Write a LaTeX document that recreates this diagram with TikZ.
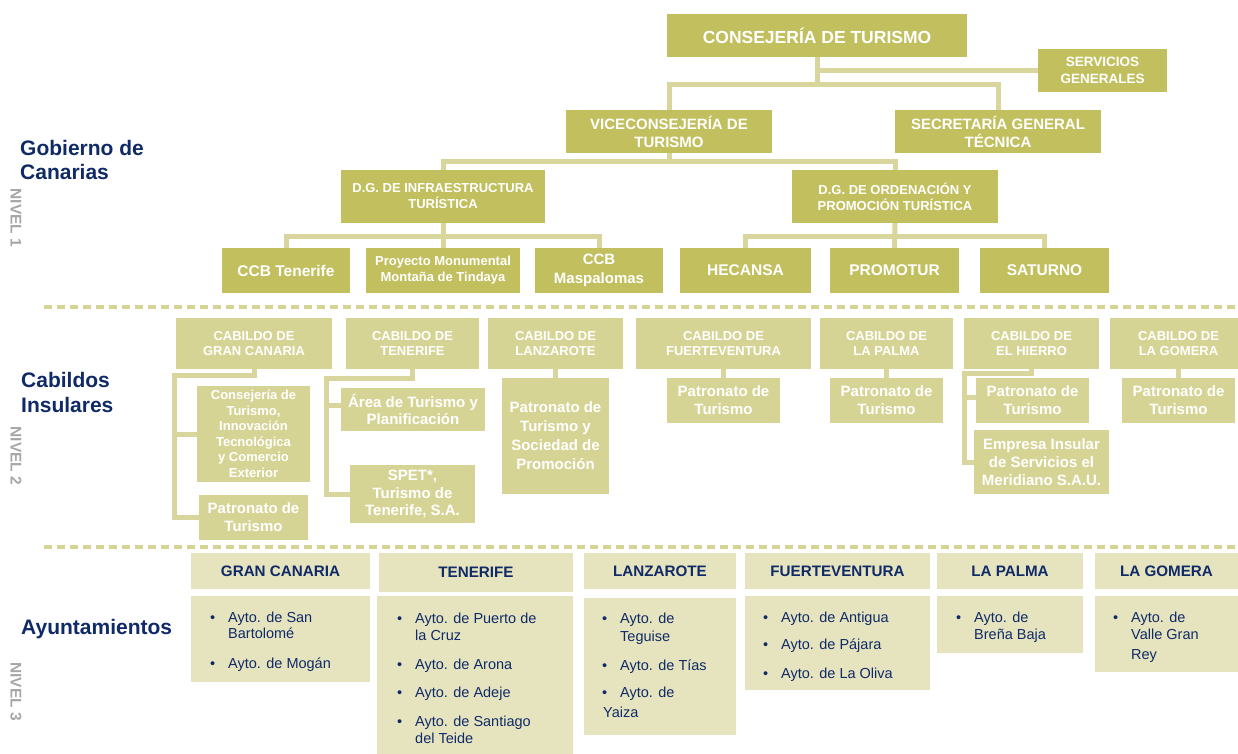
\documentclass[tikz,border=0pt]{standalone}
\usepackage{fontspec}
\setmainfont{Liberation Sans}
\usetikzlibrary{calc}
\pgfdeclarelayer{bg}
\pgfsetlayers{bg,main}
\definecolor{kA}{HTML}{C2BF5F}
\definecolor{kB}{HTML}{D6D495}
\definecolor{kC}{HTML}{E6E4BE}
\definecolor{kL}{HTML}{D8D69C}
\definecolor{navy}{HTML}{102A68}
\definecolor{nivgray}{HTML}{A6A6A6}
\newcommand\fA[2]{\bfseries\fontsize{#1}{#2}\selectfont}
\newcommand\fR[2]{\fontsize{#1}{#2}\selectfont}
\newcommand\bx[7]{\node[#2, minimum width={(#5-#3)*1pt}, minimum height={(#6-#4)*1pt}] (#1) at ({(#3+#5)/2},{(#4+#6)/2}) {#7};}
\newcommand\bitem[4]{\node[bul] (#1) at ({#2-18},#3) {\makebox[18pt][l]{•}#4};}
\newcommand\bline[4]{\node[bul] (#1) at (#2,#3) {#4};}
\tikzset{
  lvA/.style={fill=kA, text=white, inner sep=0pt, align=center},
  lvB/.style={fill=kB, text=white, inner sep=0pt, align=center},
  lvC/.style={fill=kC, text=navy, inner sep=0pt, align=center},
  conn/.style={draw=kL, line width=5pt},
  dsh/.style={draw=kB, line width=3.5pt, dash pattern=on 8pt off 5pt},
  bul/.style={text=navy, inner sep=0pt, anchor=base west, font=\fR{14.5}{17}},
  lab/.style={text=navy, inner sep=0pt, anchor=base west, font=\fA{21}{24}},
  niv/.style={text=nivgray, inner sep=0pt, font=\fA{15.5}{18}, rotate=-90}
}
\begin{document}
\begin{tikzpicture}[x=1pt,y=-1pt]
\useasboundingbox (0,0) rectangle (1238,753);
% left labels
\node[lab] (gob1) at (20,155) {Gobierno de};
\node[lab] (gob2) at (20,179) {Canarias};
\node[niv] (niv1) at (16,218) {NIVEL 1};
\node[lab] (cab1) at (21,387) {Cabildos};
\node[lab] (cab2) at (21,412) {Insulares};
\node[niv] (niv2) at (16,456) {NIVEL 2};
\node[lab] (ayu) at (21,634) {Ayuntamientos};
\node[niv] (niv3) at (16,691.5) {NIVEL 3};
% separators
\coordinate (d1a) at (44,307); \coordinate (d1b) at (1238,307);
\coordinate (d2a) at (44,547); \coordinate (d2b) at (1238,547);
\draw[dsh] (d1a) -- (d1b);
\draw[dsh] (d2a) -- (d2b);
% level 1
\bx{cons}{lvA,font={\fA{17.5}{21}}}{667}{14}{967}{57}{CONSEJERÍA DE TURISMO}
\bx{serv}{lvA,font={\fA{13.5}{16.5}}}{1038}{49}{1167}{92}{SERVICIOS\\GENERALES}
\bx{vice}{lvA,font={\fA{15}{18}}}{566}{110}{772}{153}{VICECONSEJERÍA DE\\TURISMO}
\bx{sec}{lvA,font={\fA{15}{18}}}{895}{110}{1101}{153}{SECRETARÍA GENERAL\\TÉCNICA}
\bx{dginf}{lvA,font={\fA{13}{16}}}{341}{170}{545}{223}{D.G. DE INFRAESTRUCTURA\\TURÍSTICA}
\bx{dgord}{lvA,font={\fA{13}{16}}}{792}{170}{998}{223}{D.G. DE ORDENACIÓN Y\\PROMOCIÓN TURÍSTICA}
\bx{ccbt}{lvA,font={\fA{15.5}{19}}}{222}{248}{350}{293}{CCB Tenerife}
\bx{tind}{lvA,font={\fA{13}{16}}}{366}{248}{520}{293}{Proyecto Monumental\\Montaña de Tindaya}
\bx{ccbm}{lvA,font={\fA{15}{19}}}{535}{248}{663}{293}{CCB\\Maspalomas}
\bx{hec}{lvA,font={\fA{15.5}{19}}}{680}{248}{811}{293}{HECANSA}
\bx{promo}{lvA,font={\fA{15.5}{19}}}{830}{248}{959}{293}{PROMOTUR}
\bx{sat}{lvA,font={\fA{15.5}{19}}}{980}{248}{1109}{293}{SATURNO}
% level 2
\bx{cgc}{lvB,font={\fA{13}{15}}}{176}{318}{332}{369}{CABILDO DE\\GRAN CANARIA}
\bx{ctf}{lvB,font={\fA{13}{15}}}{346}{318}{479}{369}{CABILDO DE\\TENERIFE}
\bx{clz}{lvB,font={\fA{13}{15}}}{488}{318}{623}{369}{CABILDO DE\\LANZAROTE}
\bx{cfv}{lvB,font={\fA{13}{15}}}{636}{318}{811}{369}{CABILDO DE\\FUERTEVENTURA}
\bx{clp}{lvB,font={\fA{13}{15}}}{820}{318}{953}{369}{CABILDO DE\\LA PALMA}
\bx{ceh}{lvB,font={\fA{13}{15}}}{964}{318}{1099}{369}{CABILDO DE\\EL HIERRO}
\bx{clg}{lvB,font={\fA{13}{15}}}{1110}{318}{1247}{369}{CABILDO DE\\LA GOMERA}
\bx{gc1}{lvB,font={\fA{13}{15.5}}}{197}{386}{310}{482}{Consejería de\\Turismo,\\Innovación\\Tecnológica\\y Comercio\\Exterior}
\bx{gc2}{lvB,font={\fA{15}{18}}}{199}{495}{308}{540}{Patronato de\\Turismo}
\bx{tf1}{lvB,font={\fA{15}{17}}}{341}{388}{485}{431}{Área de Turismo y\\Planificación}
\bx{tf2}{lvB,font={\fA{15}{17.5}}}{350}{465}{475}{523}{SPET*,\\Turismo de\\Tenerife, S.A.}
\bx{lz1}{lvB,font={\fA{15}{19}}}{502}{378}{609}{494}{Patronato de\\Turismo y\\Sociedad de\\Promoción}
\bx{fv1}{lvB,font={\fA{15}{18}}}{667}{378}{780}{423}{Patronato de\\Turismo}
\bx{lp1}{lvB,font={\fA{15}{18}}}{830}{378}{943}{423}{Patronato de\\Turismo}
\bx{eh1}{lvB,font={\fA{15}{18}}}{976}{378}{1089}{423}{Patronato de\\Turismo}
\bx{eh2}{lvB,font={\fA{15}{18}}}{974}{430}{1109}{494}{Empresa Insular\\de Servicios el\\Meridiano S.A.U.}
\bx{lg1}{lvB,font={\fA{15}{18}}}{1122}{378}{1235}{423}{Patronato de\\Turismo}
% level 3 headers
\bx{hgc}{lvC,font={\fA{15.2}{18}}}{191}{553}{370}{589}{GRAN CANARIA}
\bx{htf}{lvC,font={\fA{15.2}{18}}}{379}{553}{573}{592}{TENERIFE}
\bx{hlz}{lvC,font={\fA{15.2}{18}}}{584}{553}{736}{589}{LANZAROTE}
\bx{hfv}{lvC,font={\fA{15.2}{18}}}{745}{553}{930}{589}{FUERTEVENTURA}
\bx{hlp}{lvC,font={\fA{15.2}{18}}}{937}{553}{1083}{589}{LA PALMA}
\bx{hlg}{lvC,font={\fA{15.2}{18}}}{1095}{553}{1238}{589}{LA GOMERA}
% level 3 bodies
\bx{bgc}{lvC}{191}{596}{370}{682}{}
\bx{btf}{lvC}{377}{596}{573}{760}{}
\bx{blz}{lvC}{584}{598}{736}{735}{}
\bx{bfv}{lvC}{745}{596}{930}{690}{}
\bx{blp}{lvC}{937}{596}{1083}{653}{}
\bx{blg}{lvC}{1095}{596}{1238}{672}{}
% bullets
\bitem{gca}{228}{622}{Ayto. de San}
\bline{gcb}{228}{638}{Bartolomé}
\bitem{gcc}{228}{668}{Ayto. de Mogán}
\bitem{tfa}{415}{623}{Ayto. de Puerto de}
\bline{tfb}{415}{640}{la Cruz}
\bitem{tfc}{415}{669}{Ayto. de Arona}
\bitem{tfd}{415}{697}{Ayto. de Adeje}
\bitem{tfe}{415}{726}{Ayto. de Santiago}
\bline{tff}{415}{743}{del Teide}
\bitem{lza}{620}{623}{Ayto. de}
\bline{lzb}{620}{641}{Teguise}
\bitem{lzc}{620}{670}{Ayto. de Tías}
\bitem{lzd}{620}{697}{Ayto. de}
\bline{lze}{603}{717}{Yaiza}
\bitem{fva}{781}{622}{Ayto. de Antigua}
\bitem{fvb}{781}{649}{Ayto. de Pájara}
\bitem{fvc}{781}{678}{Ayto. de La Oliva}
\bitem{lpa}{974}{622}{Ayto. de}
\bline{lpb}{974}{639}{Breña Baja}
\bitem{lga}{1131}{622}{Ayto. de}
\bline{lgb}{1131}{639}{Valle Gran}
\bline{lgc}{1131}{659}{Rey}
% connectors
\begin{pgfonlayer}{bg}
\coordinate (j1) at (817,84);
\draw[conn] (cons.south) -- (j1);
\draw[conn] (vice.north) |- (j1) -| (sec.north);
\draw[conn] (serv.west) -- (serv.west -| cons.south);
\coordinate (j2) at (669,161);
\draw[conn] (vice.south) -- (j2);
\draw[conn] (dginf.north) |- (j2) -| (dgord.north);
\coordinate (j3) at (443,236);
\draw[conn] (dginf.south) -- (tind.north);
\draw[conn] (ccbt.north) |- (j3) -| (ccbm.north);
\coordinate (j4) at (895,236);
\draw[conn] (dgord.south) -- (promo.north);
\draw[conn] (hec.north) |- (j4) -| (sat.north);
% level 2
\coordinate (gcv) at (174.5,375.5);
\draw[conn] (cgc.south) |- (gcv) -- (gcv |- gc2.west) -- (gc2.west);
\draw[conn] (gcv |- gc1.west) -- (gc1.west);
\coordinate (tfv) at (326.5,378);
\coordinate (tfj) at (326.5,405);
\draw[conn] (ctf.south) |- (tfv) -- (tfv |- tf2.west) -- (tf2.west);
\draw[conn] (tfj) -- (tfj -| tf1.west);
\draw[conn] (clz.south) -- (lz1.north);
\draw[conn] (cfv.south) -- (fv1.north);
\draw[conn] (clp.south) -- (lp1.north);
\coordinate (ehv) at (964.5,373);
\coordinate (ehj) at (964.5,397);
\draw[conn] (ceh.south) |- (ehv) -- (ehv |- eh2.west) -- (eh2.west);
\draw[conn] (ehj) -- (ehj -| eh1.west);
\draw[conn] (clg.south) -- (lg1.north);
\end{pgfonlayer}
\end{tikzpicture}
\end{document}
